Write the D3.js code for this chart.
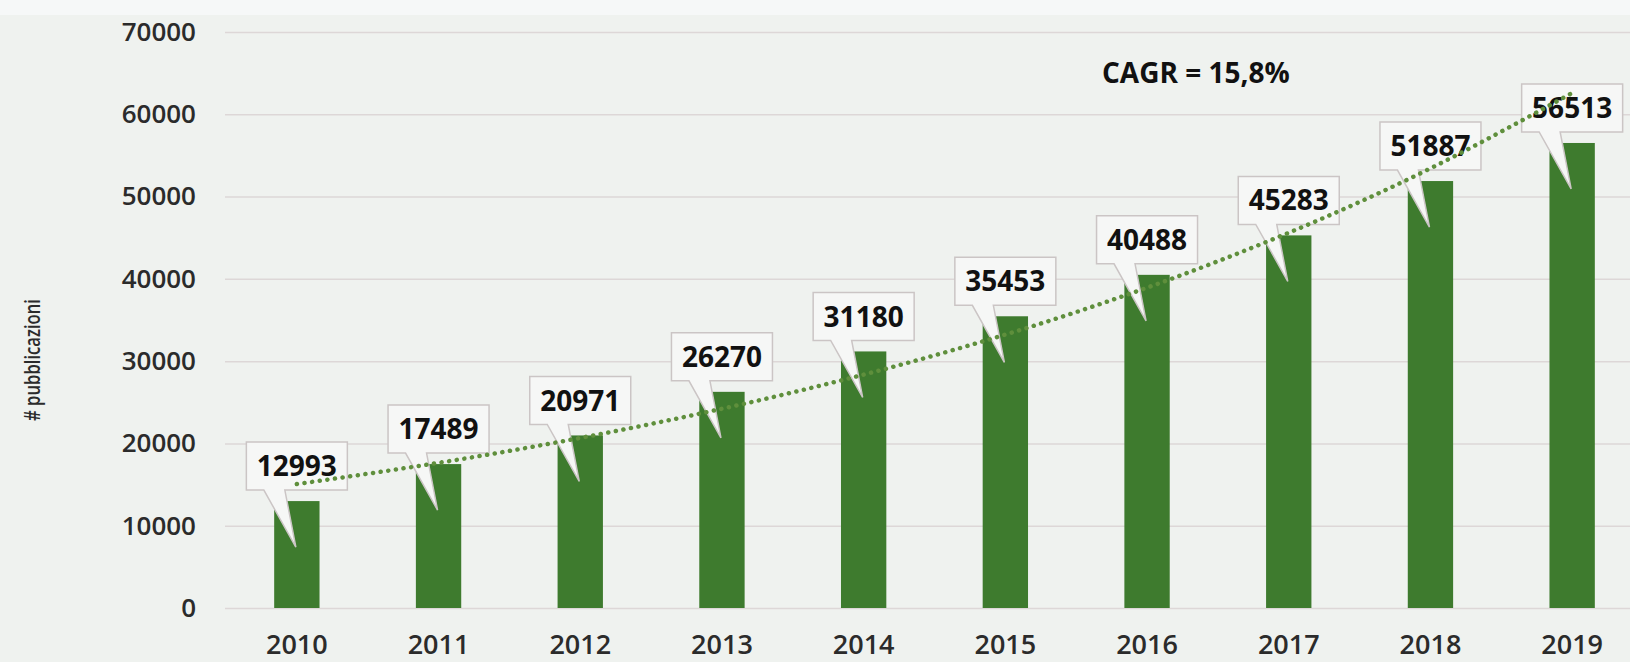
<!DOCTYPE html>
<html>
<head>
<meta charset="utf-8">
<script src="https://cdn.jsdelivr.net/npm/d3@7"></script>
<style>
  body { margin: 0; background: #eff2ef; }
  #chart { width: 1630px; height: 662px; }
  text { font-family: "Open Sans", sans-serif; }
</style>
</head>
<body>
<div id="chart"></div>
<script>
// dati
const years = ["2010", "2011", "2012", "2013", "2014", "2015", "2016", "2017", "2018", "2019"]
const publications = [12993, 17489, 20971, 26270, 31180, 35453, 40488, 45283, 51887, 56513]
const yTicks = [0, 10000, 20000, 30000, 40000, 50000, 60000, 70000]
const yTitle = "# pubblicazioni"
const cagrLabel = "CAGR = 15,8%"

const W = 1630, H = 662
const svg = d3.select("#chart").append("svg")
    .attr("width", W)
    .attr("height", H)

svg.append("rect").attr("width", W).attr("height", H).attr("fill", "#eff2ef")
svg.append("rect").attr("width", W).attr("height", 15).attr("fill", "#f6f8f8")

const x = d3.scaleBand()
    .domain(years)
    .range([226, 1643])
    .paddingInner(0.68)
    .paddingOuter(0.34)
const y = d3.scaleLinear()
    .domain([0, 70000])
    .range([608, 32])

// asse Y + griglia
const yAxis = svg.append("g")
    .attr("transform", "translate(225,0)")
    .call(d3.axisLeft(y).tickValues(yTicks).tickFormat(d3.format("d")).tickSize(-(W - 225)).tickPadding(29))
yAxis.select(".domain").remove()
yAxis.selectAll("line").attr("stroke", "#ddd7d7").attr("stroke-width", 1.5)
yAxis.selectAll("text")
    .attr("fill", "#2b2b2b")
    .style("font-size", "26px")
    .style("font-weight", 600)

// asse X
const xAxis = svg.append("g")
    .attr("transform", "translate(0,608)")
    .call(d3.axisBottom(x).tickSize(0).tickPadding(27))
xAxis.select(".domain").remove()
xAxis.selectAll("text")
    .attr("fill", "#2b2b2b")
    .style("font-size", "27px")
    .style("font-weight", 600)

svg.append("text")
    .attr("transform", "rotate(-90)")
    .attr("x", -360)
    .attr("y", 40)
    .attr("text-anchor", "middle")
    .attr("fill", "#2b2b2b")
    .attr("textLength", 122)
    .attr("lengthAdjust", "spacingAndGlyphs")
    .style("font-size", "22px")
    .style("font-weight", 600)
    .text(yTitle)

const data = years.map((year, i) => ({year, value: publications[i]}))

// barre
svg.selectAll(".bar")
    .data(data)
    .enter()
    .append("rect")
    .attr("class", "bar")
    .attr("x", d => x(d.year))
    .attr("width", x.bandwidth())
    .attr("y", d => y(d.value))
    .attr("height", d => y(0) - y(d.value))
    .attr("fill", "#3e7b2e")

// etichette a fumetto
const callout = d => {
    const c = x(d.year) + x.bandwidth() / 2
    const top = y(d.value)
    const b = top - 11, t = b - 48
    const l = c - 50.5, r = c + 50.5
    return `M${l},${t}H${r}V${b}H${c - 12}L${c - 1},${top + 46}L${c - 33},${b}H${l}Z`
}
const labels = svg.selectAll(".label")
    .data(data)
    .enter()
    .append("g")
    .attr("class", "label")
labels.append("path")
    .attr("d", callout)
    .attr("fill", "#f6f7f6")
    .attr("stroke", "#cbc5c5")
    .attr("stroke-width", 1.5)
labels.append("text")
    .attr("x", d => x(d.year) + x.bandwidth() / 2)
    .attr("y", d => y(d.value) - 11 - 24)
    .attr("dy", "0.36em")
    .attr("text-anchor", "middle")
    .attr("fill", "#111")
    .style("font-size", "28px")
    .style("font-weight", 700)
    .text(d => d.value)

// linea di tendenza esponenziale (minimi quadrati su ln)
const xs = data.map((d, i) => i + 1)
const ls = data.map(d => Math.log(d.value))
const mx = d3.mean(xs), ml = d3.mean(ls)
const b1 = d3.sum(xs, (v, i) => (v - mx) * (ls[i] - ml)) / d3.sum(xs, v => (v - mx) ** 2)
const b0 = ml - b1 * mx
const trend = data.map((d, i) => ({year: d.year, value: Math.exp(b0 + b1 * (i + 1))}))

svg.append("path")
    .datum(trend)
    .attr("fill", "none")
    .attr("stroke", "#5f8f3c")
    .attr("stroke-width", 4.5)
    .attr("stroke-linecap", "round")
    .attr("stroke-dasharray", "0.1 7.6")
    .attr("d", d3.line()
        .x(d => x(d.year) + x.bandwidth() / 2)
        .y(d => y(d.value))
        .curve(d3.curveNatural))

svg.append("text")
    .attr("x", 1102)
    .attr("y", 73)
    .attr("dy", "0.36em")
    .attr("fill", "#111")
    .style("font-size", "28px")
    .style("font-weight", 700)
    .text(cagrLabel)
</script>
</body>
</html>
